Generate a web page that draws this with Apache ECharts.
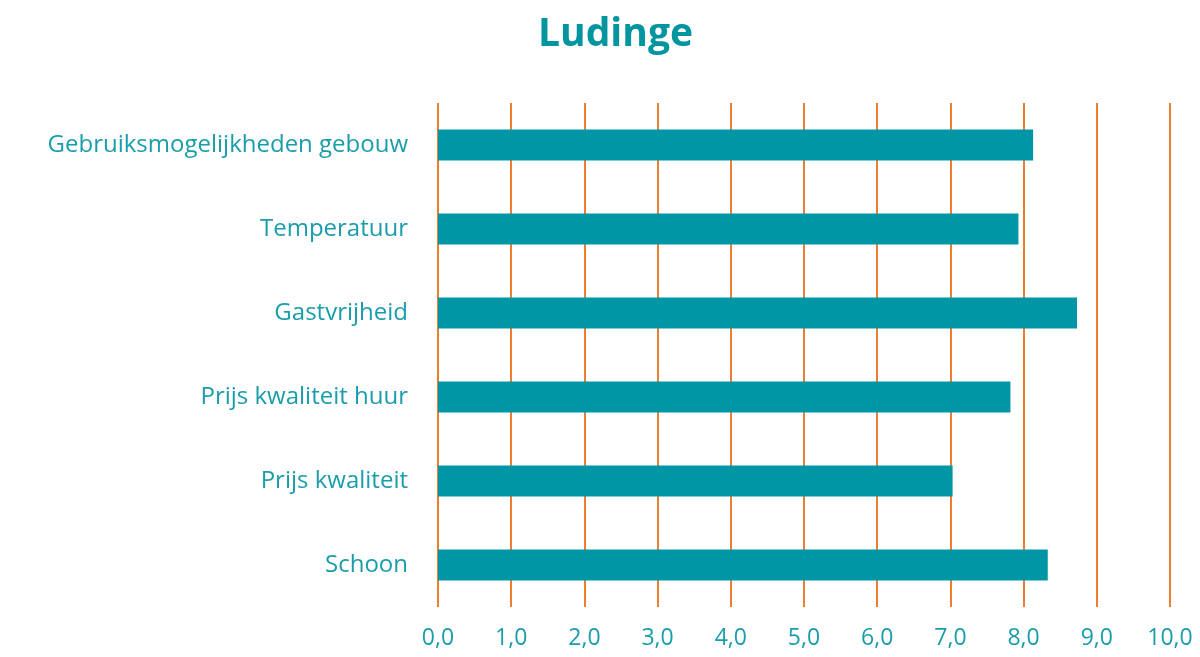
<!DOCTYPE html>
<html>
<head>
<meta charset="utf-8">
<script src="https://cdn.jsdelivr.net/npm/echarts@6/dist/echarts.min.js"></script>
<style>
    html, body { margin: 0; padding: 0; background: #fff; }
    #chart { width: 1200px; height: 657px; }
</style>
</head>
<body>
<div id="chart"></div>
<script>
var categories = ['Gebruiksmogelijkheden gebouw', 'Temperatuur', 'Gastvrijheid', 'Prijs kwaliteit huur', 'Prijs kwaliteit', 'Schoon'];
var scores = [8.13, 7.93, 8.73, 7.82, 7.03, 8.33];

var myChart = echarts.init(document.getElementById('chart'));

var option = {
    title: {
        text: 'Ludinge',
        left: 533,
        top: 10,
        textStyle: {
            color: '#00959F',
            fontSize: 39,
            fontWeight: 'bold',
            fontFamily: 'Open Sans'
        }
    },
    grid: {
        left: 438,
        right: 30,
        top: 103,
        bottom: 50
    },
    xAxis: {
        type: 'value',
        min: 0,
        max: 10,
        interval: 1,
        axisLine: { show: false },
        axisTick: { show: false },
        splitLine: {
            show: true,
            lineStyle: { color: '#ED7D31', width: 2 }
        },
        axisLabel: {
            margin: 20,
            color: '#1A9DAB',
            fontSize: 23,
            fontFamily: 'Open Sans',
            formatter: function (v) {
                return v.toFixed(1).replace('.', ',');
            }
        }
    },
    yAxis: {
        type: 'category',
        inverse: true,
        data: categories,
        axisLine: { show: false },
        axisTick: { show: false },
        axisLabel: {
            margin: 30,
            color: '#1A9DAB',
            fontSize: 24,
            fontFamily: 'Open Sans'
        }
    },
    series: [{
        type: 'bar',
        data: scores,
        barWidth: 31,
        itemStyle: { color: '#0096A6' }
    }]
};

myChart.setOption(option, true);
</script>
</body>
</html>
